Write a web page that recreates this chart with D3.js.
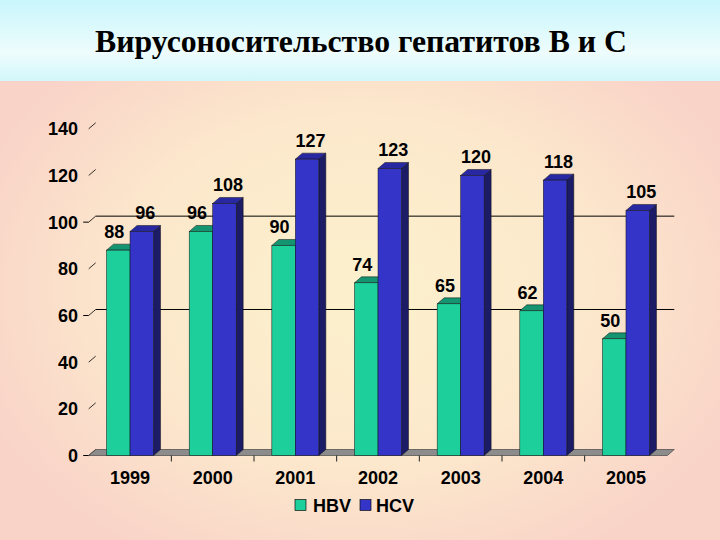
<!DOCTYPE html>
<html>
<head>
<meta charset="utf-8">
<script src="https://cdn.jsdelivr.net/npm/d3@7"></script>
<style>
  html, body { margin: 0; padding: 0; }
  svg { display: block; }
</style>
</head>
<body>
<script>
// ---- data ----
const title = "Вирусоносительство гепатитов В и С";
const years = ["1999", "2000", "2001", "2002", "2003", "2004", "2005"];
const series = ["HBV", "HCV"];
const hbv = [88, 96, 90, 74, 65, 62, 50];
const hcv = [96, 108, 127, 123, 120, 118, 105];
const yTicks = [0, 20, 40, 60, 80, 100, 120, 140];
const gridValues = [60, 100];

const W = 720, H = 540;
const svg = d3.select("body").append("svg").attr("width", W).attr("height", H);
const defs = svg.append("defs");

// background gradients
const lg = defs.append("linearGradient").attr("id", "topband").attr("x1", 0).attr("y1", 0).attr("x2", 0).attr("y2", 1);
lg.append("stop").attr("offset", "0%").attr("stop-color", "#c8f6fb");
lg.append("stop").attr("offset", "65%").attr("stop-color", "#eefcfd");
lg.append("stop").attr("offset", "100%").attr("stop-color", "#d2f7fa");

const rg = defs.append("radialGradient").attr("id", "lowbg")
  .attr("gradientUnits", "userSpaceOnUse")
  .attr("cx", 360).attr("cy", 290).attr("r", 420)
  .attr("gradientTransform", "translate(360,290) scale(1,0.75) translate(-360,-290)");
rg.append("stop").attr("offset", "0%").attr("stop-color", "#fcf1cc");
rg.append("stop").attr("offset", "55%").attr("stop-color", "#fce8cc");
rg.append("stop").attr("offset", "100%").attr("stop-color", "#f9d2c8");

svg.append("rect").attr("x", 0).attr("y", 0).attr("width", W).attr("height", H).attr("fill", "url(#lowbg)");
svg.append("rect").attr("x", 0).attr("y", 0).attr("width", W).attr("height", 81).attr("fill", "url(#topband)");

// title
svg.append("text")
  .attr("x", 361).attr("y", 52)
  .attr("text-anchor", "middle")
  .attr("font-family", "'Times New Roman', 'Liberation Serif', serif")
  .attr("font-weight", "bold")
  .attr("font-size", 32)
  .attr("textLength", 532)
  .attr("lengthAdjust", "spacingAndGlyphs")
  .attr("fill", "#000")
  .text(title);

// ---- scales ----
const dx = 7, dy = -6;
const x = d3.scaleBand().domain(years).range([88.7, 667.3]).padding(0);
const xs = d3.scaleBand().domain(series).range([0, x.bandwidth()]).paddingInner(0).paddingOuter(0.759);
const y = d3.scaleLinear().domain([0, 140]).range([455.5, 128.8]);

const numFont = "Arial, 'Liberation Sans', sans-serif";
const g = svg.append("g");

// gridlines on back wall
gridValues.forEach(v => {
  g.append("line")
    .attr("x1", x.range()[0] + dx).attr("x2", x.range()[1] + dx)
    .attr("y1", y(v) + dy).attr("y2", y(v) + dy)
    .attr("stroke", "#000").attr("stroke-width", 1);
});

// y ticks
yTicks.forEach(v => {
  g.append("line")
    .attr("x1", x.range()[0]).attr("y1", y(v))
    .attr("x2", x.range()[0] + dx).attr("y2", y(v) + dy)
    .attr("stroke", "#000").attr("stroke-width", 0.8);
  if (v === 0 || gridValues.includes(v)) {
    g.append("line")
      .attr("x1", x.range()[0] - 5.5).attr("x2", x.range()[0])
      .attr("y1", y(v)).attr("y2", y(v))
      .attr("stroke", "#000").attr("stroke-width", 1);
  }
  g.append("text")
    .attr("x", 78).attr("y", y(v) + 6.5)
    .attr("text-anchor", "end")
    .attr("font-family", numFont).attr("font-weight", "bold").attr("font-size", 18)
    .attr("fill", "#000")
    .text(v);
});

// floor
const fx0 = x.range()[0], fx1 = x.range()[1], fy = y(0);
g.append("polygon")
  .attr("points", [[fx0, fy], [fx0 + dx, fy + dy], [fx1 + dx, fy + dy], [fx1, fy]].map(p => p.join(",")).join(" "))
  .attr("fill", "#8c8c8c").attr("stroke", "#333").attr("stroke-width", 0.6);

// category ticks
years.slice(1).forEach(yr => {
  const xx = x(yr);
  g.append("line").attr("x1", xx).attr("x2", xx).attr("y1", fy).attr("y2", fy + 6)
    .attr("stroke", "#222").attr("stroke-width", 1);
});

// bars
const colors = {
  HBV: { front: "#1ccf9b", top: "#149470", side: "#0c6a50" },
  HCV: { front: "#3434c9", top: "#2828a2", side: "#1b1b66" }
};
const rows = [];
years.forEach((yr, i) => {
  rows.push({ year: yr, s: "HBV", v: hbv[i] });
  rows.push({ year: yr, s: "HCV", v: hcv[i] });
});

rows.forEach(d => {
  const x0 = x(d.year) + xs(d.s), x1 = x0 + xs.bandwidth();
  const yt = y(d.v), yb = y(0);
  const c = colors[d.s];
  const bg = g.append("g");
  bg.append("polygon")
    .attr("points", [[x1, yt], [x1 + dx, yt + dy], [x1 + dx, yb + dy], [x1, yb]].map(p => p.join(",")).join(" "))
    .attr("fill", c.side).attr("stroke", "#111").attr("stroke-width", 0.5);
  bg.append("polygon")
    .attr("points", [[x0, yt], [x0 + dx, yt + dy], [x1 + dx, yt + dy], [x1, yt]].map(p => p.join(",")).join(" "))
    .attr("fill", c.top).attr("stroke", "#111").attr("stroke-width", 0.5);
  bg.append("rect")
    .attr("x", x0).attr("y", yt).attr("width", x1 - x0).attr("height", yb - yt)
    .attr("fill", c.front).attr("stroke", "#111").attr("stroke-width", 0.5);
});

// data labels
rows.forEach(d => {
  const cx = x(d.year) + xs(d.s) + xs.bandwidth() / 2 + (d.s === "HBV" ? -4 : 3.5);
  g.append("text")
    .attr("x", cx).attr("y", y(d.v) - 12)
    .attr("text-anchor", "middle")
    .attr("font-family", numFont).attr("font-weight", "bold").attr("font-size", 18)
    .attr("fill", "#000")
    .text(d.v);
});

// year labels
years.forEach(yr => {
  g.append("text")
    .attr("x", x(yr) + x.bandwidth() / 2).attr("y", 483.5)
    .attr("text-anchor", "middle")
    .attr("font-family", numFont).attr("font-weight", "bold").attr("font-size", 18)
    .attr("fill", "#000")
    .text(yr);
});

// legend
const legend = svg.append("g");
const legendItems = [
  { s: "HBV", sx: 295, tx: 313 },
  { s: "HCV", sx: 360, tx: 376 }
];
legendItems.forEach(it => {
  legend.append("rect").attr("x", it.sx).attr("y", 499.5).attr("width", 11).attr("height", 11)
    .attr("fill", colors[it.s].front).attr("stroke", "#111").attr("stroke-width", 0.7);
  legend.append("text").attr("x", it.tx).attr("y", 511.5)
    .attr("font-family", numFont).attr("font-weight", "bold").attr("font-size", 18)
    .attr("fill", "#000").text(it.s);
});
</script>
</body>
</html>
